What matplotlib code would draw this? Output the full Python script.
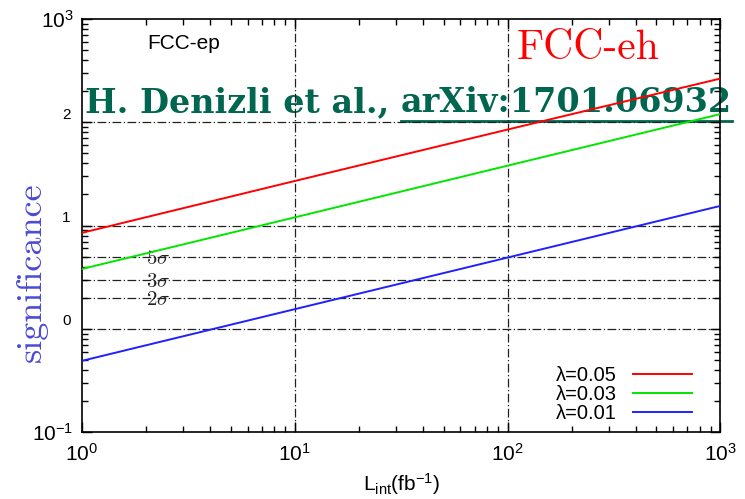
import matplotlib
matplotlib.use("Agg")
import matplotlib.pyplot as plt
from matplotlib.ticker import LogLocator, NullFormatter
import matplotlib.transforms as mtrans

plt.rcParams["font.family"] = ["Liberation Sans", "DejaVu Sans"]
plt.rcParams["axes.formatter.use_mathtext"] = True

# Integrated luminosity (fb^-1) and significance for each coupling
lumi = [1, 10, 100, 1000]
sig_l005 = [8.5, 27, 85, 265]
sig_l003 = [3.8, 12, 38, 120]
sig_l001 = [0.49, 1.55, 4.9, 15.5]
labels = ["λ=0.05", "λ=0.03", "λ=0.01"]
colors = ["#ff0000", "#00e600", "#2020ff"]

# Reference significance levels
sigma_levels = [5, 3, 2]
sigma_labels = [r"$5\sigma$", r"$3\sigma$", r"$2\sigma$"]
decade_lines_y = [1, 10, 100]
decade_lines_x = [10, 100]

fig = plt.figure(figsize=(7.45, 4.99), dpi=100)
ax = fig.add_axes([0.110, 0.134, 0.857, 0.828])
ax.set_facecolor("none")
ax.set_xscale("log")
ax.set_yscale("log")
ax.set_xlim(1, 1000)
ax.set_ylim(0.1, 1000)

grid_kw = dict(color="#222222", lw=0.9, ls=(0, (7, 2, 1, 2)), zorder=1)
for y in decade_lines_y + sigma_levels:
    ax.axhline(y, **grid_kw)
for x in decade_lines_x:
    ax.axvline(x, **grid_kw)

for ys, c, lab in zip([sig_l005, sig_l003, sig_l001], colors, labels):
    ax.plot(lumi, ys, color=c, lw=1.4, label=lab, zorder=3)

for y, s in zip(sigma_levels, sigma_labels):
    ax.text(2.0, y * 0.96, s, fontsize=15, math_fontfamily="cm",
            ha="left", va="center", color="#222222", zorder=2)

# Ticks
ax.xaxis.set_minor_locator(LogLocator(base=10, subs=range(2, 10), numticks=20))
ax.yaxis.set_minor_locator(LogLocator(base=10, subs=range(2, 10), numticks=20))
ax.xaxis.set_minor_formatter(NullFormatter())
ax.yaxis.set_minor_formatter(NullFormatter())
ax.tick_params(which="both", direction="in", top=True, right=True, width=1.0)
ax.tick_params(which="major", length=7, labelsize=15, pad=8)
ax.tick_params(which="minor", length=4)

ax.set_xticks([1, 10, 100, 1000])
ax.set_xticklabels([r"$\mathregular{10^{0}}$", r"$\mathregular{10^{1}}$",
                    r"$\mathregular{10^{2}}$", r"$\mathregular{10^{3}}$"])
ax.set_yticks([0.1, 1, 10, 100, 1000])
ax.set_yticklabels([r"$\mathregular{10^{-1}}$", "", "", "", r"$\mathregular{10^{3}}$"])
ax.tick_params(axis="y", pad=6)

# Exponent-only labels on the middle decades
trans = mtrans.blended_transform_factory(ax.transAxes, ax.transData)
for y, s in zip([1, 10, 100], ["0", "1", "2"]):
    ax.text(-0.018, y * 1.18, s, transform=trans, fontsize=11,
            ha="right", va="center", color="black")

for sp in ax.spines.values():
    sp.set_linewidth(1.2)

ax.set_xlabel(r"$\mathregular{L_{int}(fb^{-1})}$", fontsize=15, labelpad=4)
ax.set_ylabel("significance", fontsize=26, family="cmr10",
              color="#4a4ad8")
ax.yaxis.set_label_coords(-0.053, 0.387)

ax.text(0.103, 0.94, "FCC-ep", transform=ax.transAxes, fontsize=15,
        ha="left", va="center", color="black")

# Overlay titles sit underneath the plotted curves
fig.text(0.789, 0.903, "FCC-eh", fontsize=30, family="cmr10",
         color="#ff0000", ha="center", va="center", zorder=-1)

credit = fig.text(0.114, 0.775, "H. Denizli et al., ", fontsize=24,
                  family="DejaVu Serif", weight="bold", color="#006650",
                  ha="left", va="baseline", zorder=-1)
fig.canvas.draw()
bb = credit.get_window_extent()
x1 = bb.x1 / fig.bbox.width
arx = fig.text(x1, 0.775, "arXiv:1701.06932", fontsize=24,
               family="DejaVu Serif", weight="bold", color="#006650",
               ha="left", va="baseline", zorder=-1)
fig.canvas.draw()
bb2 = arx.get_window_extent()
fig.add_artist(plt.Line2D([bb2.x0 / fig.bbox.width, bb2.x1 / fig.bbox.width],
                          [0.7575, 0.7575], color="#006650", lw=2.0,
                          transform=fig.transFigure, zorder=-1))

leg = ax.legend(loc="lower right", frameon=False, markerfirst=False,
                fontsize=14.5, handlelength=2.9, labelspacing=0.0,
                borderaxespad=0.4, bbox_to_anchor=(0.98, -0.017))

fig.savefig("out.png", dpi=100)
